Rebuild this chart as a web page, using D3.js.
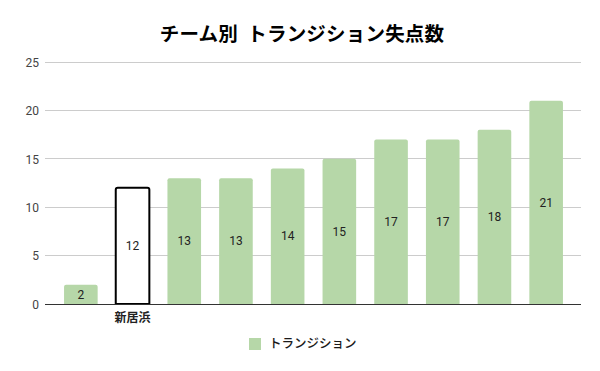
<!DOCTYPE html>
<html><head><meta charset="utf-8">
<script src="https://cdn.jsdelivr.net/npm/d3@7"></script>
<style>body{margin:0;background:#fff}svg{display:block}</style>
</head><body>
<svg id="c" width="600" height="371"></svg>
<script>
const categories = ["A","新居浜","C","D","E","F","G","H","I","J"];
const shownLabels = ["", "新居浜", "", "", "", "", "", "", "", ""];
const values = [2, 12, 13, 13, 14, 15, 17, 17, 18, 21];
const highlight = [false, true, false, false, false, false, false, false, false, false];
const yTicks = [0, 5, 10, 15, 20, 25];
const title = "チーム別  トランジション失点数";
const seriesName = "トランジション";

const svg = d3.select("#c");
const gridL = 45, gridR = 581;
const x = d3.scaleBand().domain(categories).range([55, 572]).paddingInner(0.35).paddingOuter(0.175);
const y = d3.scaleLinear().domain([0, 25]).range([304, 62]);
const jp = "'Noto Sans CJK JP', 'Noto Sans', sans-serif";
const num = "Roboto, Arial, sans-serif";

svg.append("text").attr("x", 302).attr("y", 41).attr("text-anchor", "middle")
  .style("white-space", "pre").attr("letter-spacing", 0.2)
  .attr("font-family", jp).attr("font-weight", "bold").attr("font-size", 19.5).attr("fill", "#000").text(title);

// grid
svg.append("g").selectAll("line").data(yTicks.filter(d => d > 0)).join("line")
  .attr("x1", gridL).attr("x2", gridR).attr("y1", d => y(d)).attr("y2", d => y(d))
  .attr("stroke", "#ccc").attr("stroke-width", 1).attr("shape-rendering", "crispEdges");

// y axis labels
const yAxis = d3.axisLeft(y).tickValues(yTicks).tickSize(0).tickPadding(0).tickFormat(d3.format("d"));
const ga = svg.append("g").attr("transform", `translate(39,0)`).call(yAxis);
ga.select(".domain").remove();
ga.selectAll("text").attr("font-family", num).attr("font-size", 12).attr("fill", "#444").attr("dy", "0.35em");

// bars
const r = 2;
svg.append("g").selectAll("path").data(values).join("path")
  .attr("d", (d, i) => {
    const x0 = x(categories[i]), w = x.bandwidth(), y0 = y(d), yb = y(0);
    return `M${x0},${yb} L${x0},${y0 + r} Q${x0},${y0} ${x0 + r},${y0} L${x0 + w - r},${y0} Q${x0 + w},${y0} ${x0 + w},${y0 + r} L${x0 + w},${yb} Z`;
  })
  .attr("fill", (d, i) => highlight[i] ? "#fff" : "#b6d7a8")
  .attr("stroke", (d, i) => highlight[i] ? "#000" : "none")
  .attr("stroke-width", 2);

// value labels
svg.append("g").selectAll("text").data(values).join("text")
  .attr("x", (d, i) => x(categories[i]) + x.bandwidth() / 2)
  .attr("y", d => (y(d) + y(0)) / 2)
  .attr("dy", "0.35em").attr("text-anchor", "middle")
  .attr("font-family", num).attr("font-size", 12).attr("fill", "#222").text(d => d);

// baseline
svg.append("line").attr("x1", gridL).attr("x2", gridR).attr("y1", y(0)).attr("y2", y(0))
  .attr("stroke", "#333").attr("stroke-width", 1).attr("shape-rendering", "crispEdges");

// x labels
const xAxis = d3.axisBottom(x).tickSize(0).tickPadding(0).tickFormat((d, i) => shownLabels[i]);
const gx = svg.append("g").attr("transform", `translate(0,${y(0) + 9})`).call(xAxis);
gx.select(".domain").remove();
gx.selectAll("text").attr("font-family", jp).attr("font-weight", "bold").attr("font-size", 12).attr("fill", "#222");

// legend
const lg = svg.append("g").attr("transform", "translate(249,338)");
lg.append("rect").attr("width", 12).attr("height", 12).attr("fill", "#b6d7a8");
lg.append("text").attr("x", 20).attr("y", 6).attr("dy", "0.35em")
  .attr("font-family", jp).attr("font-weight", 500).attr("font-size", 12.5).attr("fill", "#1a1a1a").text(seriesName);
</script>
</body></html>
